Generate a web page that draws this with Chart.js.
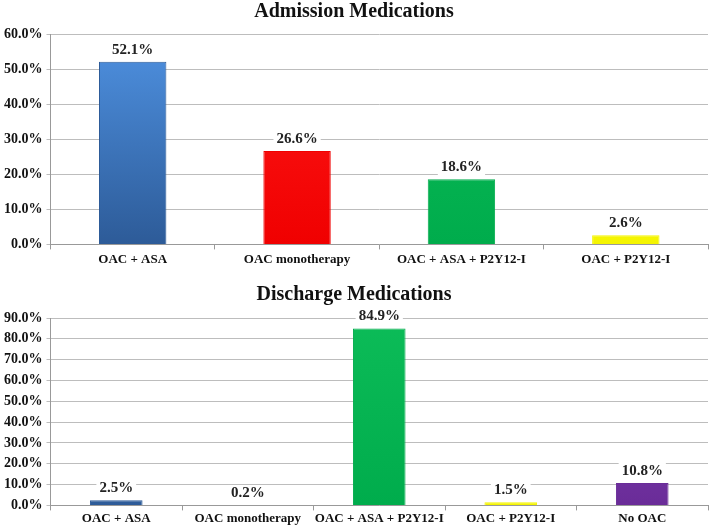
<!DOCTYPE html>
<html>
<head>
<meta charset="utf-8">
<script src="https://cdn.jsdelivr.net/npm/chart.js@4.4.0/dist/chart.umd.min.js"></script>
<style>
  body { margin: 0; background: #fff; }
  .box { position: absolute; left: 0; width: 709px; }
  #caixa-admissao { top: 0; height: 269px; }
  #caixa-alta { top: 273px; height: 253px; }
</style>
</head>
<body>
<div class="box" id="caixa-admissao"><canvas id="grafico-admissao"></canvas></div>
<div class="box" id="caixa-alta"><canvas id="grafico-alta"></canvas></div>
<script>
// dados
const categoriasAdmissao = ['OAC + ASA', 'OAC monotherapy', 'OAC + ASA + P2Y12-I', 'OAC + P2Y12-I']
const valoresAdmissao = [52.1, 26.6, 18.6, 2.6]
const categoriasAlta = ['OAC + ASA', 'OAC monotherapy', 'OAC + ASA + P2Y12-I', 'OAC + P2Y12-I', 'No OAC']
const valoresAlta = [2.5, 0.2, 84.9, 1.5, 10.8]

// cores por categoria (claro, escuro)
const coresBarra = {
  'OAC + ASA': ['#4f92e2', '#2d5b98'],
  'OAC monotherapy': ['#ff1a1a', '#f00000'],
  'OAC + ASA + P2Y12-I': ['#0cbc58', '#00ac4c'],
  'OAC + P2Y12-I': ['#ffff33', '#f4f400'],
  'No OAC': ['#8646bd', '#6a2c98']
}

const fonteSerif = 'Liberation Serif, Times New Roman, serif'

// plugin simples pra escrever o valor em cima da barra
const rotuloValor = {
  id: 'rotuloValor',
  afterDatasetsDraw(chart) {
    const c = chart.ctx
    const meta = chart.getDatasetMeta(0)
    c.save()
    c.font = 'bold 15px ' + fonteSerif
    c.textAlign = 'center'
    c.textBaseline = 'middle'
    meta.data.forEach((barra, i) => {
      const texto = chart.data.datasets[0].data[i].toFixed(1) + '%'
      const y = barra.y - 12
      const w = c.measureText(texto).width + 6
      c.fillStyle = '#fff'
      c.fillRect(barra.x - w / 2, y - 8, w, 16)
      c.fillStyle = '#222'
      c.fillText(texto, barra.x, y)
    })
    c.restore()
  }
}

function corGradiente(context) {
  const chart = context.chart
  const area = chart.chartArea
  const cat = chart.data.labels[context.dataIndex]
  const [claro, escuro] = coresBarra[cat]
  if (!area) return claro
  const g = chart.ctx.createLinearGradient(0, area.top, 0, area.bottom)
  g.addColorStop(0, claro)
  g.addColorStop(1, escuro)
  return g
}

function corBorda(context) {
  const cat = context.chart.data.labels[context.dataIndex]
  return coresBarra[cat][1]
}

function criarGrafico(id, titulo, labels, valores, maximo, proporcao, padTitulo, padTickX) {
  return new Chart(document.getElementById(id), {
    type: 'bar',
    data: {
      labels: labels,
      datasets: [{
        data: valores,
        backgroundColor: corGradiente,
        borderColor: corBorda,
        borderWidth: 1,
        categoryPercentage: 1,
        barPercentage: proporcao
      }]
    },
    options: {
      responsive: true,
      maintainAspectRatio: false,
      animation: false,
      layout: { padding: { left: 0, right: 1, top: 0, bottom: 0 } },
      plugins: {
        legend: { display: false },
        tooltip: { enabled: false },
        title: {
          display: true,
          text: titulo,
          color: '#111',
          font: { family: fonteSerif, size: 20, weight: 'bold' },
          padding: padTitulo
        }
      },
      scales: {
        x: {
          grid: { drawOnChartArea: false, drawTicks: true, tickLength: 5, color: '#999' },
          border: { color: '#999' },
          ticks: {
            color: '#111',
            font: { family: fonteSerif, size: 13, weight: 'bold' },
            padding: padTickX,
            maxRotation: 0,
            autoSkip: false
          }
        },
        y: {
          min: 0,
          max: maximo,
          grid: { color: '#bdbdbd', tickLength: 4 },
          border: { color: '#999' },
          ticks: {
            stepSize: 10,
            color: '#111',
            padding: 4,
            font: { family: fonteSerif, size: 14, weight: 'bold' },
            callback: v => v.toFixed(1) + '%'
          }
        }
      }
    },
    plugins: [rotuloValor]
  })
}

criarGrafico('grafico-admissao', 'Admission Medications', categoriasAdmissao, valoresAdmissao, 60, 0.41, { top: 0, bottom: 10 }, 2)
criarGrafico('grafico-alta', 'Discharge Medications', categoriasAlta, valoresAlta, 90, 0.4, { top: 10, bottom: 11 }, 0)
</script>
</body>
</html>
